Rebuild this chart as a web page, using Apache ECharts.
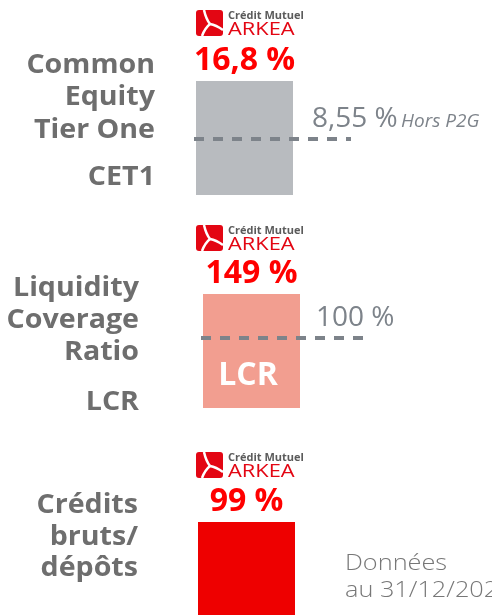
<!DOCTYPE html>
<html>
<head>
<meta charset="UTF-8">
<title>Crédit Mutuel Arkéa - ratios</title>
<script src="https://cdn.jsdelivr.net/npm/echarts@6/dist/echarts.min.js"></script>
<style>
  html, body { margin: 0; padding: 0; background: #fff; }
  #main { width: 492px; height: 615px; }
</style>
</head>
<body>
<div id="main"></div>
<script>
// data
var indicators = ['CET1', 'LCR', 'Crédits bruts/dépôts'];
var ratioValues = [16.8, 149, 99];
var thresholdValues = [8.55, 100, null];
var thresholdNotes = ['Hors P2G', '', ''];
var leftLabels = ['Common\nEquity\nTier One', 'Liquidity\nCoverage\nRatio', 'Crédits\nbruts/\ndépôts'];
var shortLabels = ['CET1', 'LCR', ''];
var dateNote = 'Données\nau 31/12/2020';

// layout of the three blocks
var boxes = [
  { left: 196, top: 81, height: 114, yMin: 0.6, lineEnd: 351, labelShift: 118, labelRight: 155 },
  { left: 203, top: 294, height: 114, yMin: 22, lineEnd: 372, labelShift: 115, labelRight: 139 },
  { left: 198, top: 522, height: 93, yMin: 0, labelRight: 138 }
];
var barColors = ['#b8bbbf', '#f29e90', '#ee0000'];
var logoTops = [10, 225, 452];
var labelTops = [49, 273, 490];
var labelLineHeights = [32.5, 32, 31.5];
var shortTops = [165, 390];

function fmt(v) {
  return String(v).replace('.', ',') + ' %';
}

function swoosh(x1, y1, cx, cy, x2, y2) {
  return {
    type: 'bezierCurve',
    shape: { x1: x1, y1: y1, cpx1: cx, cpy1: cy, x2: x2, y2: y2 },
    style: { fill: null, stroke: '#fff', lineWidth: 2.5 }
  };
}

function logo(x, y) {
  return {
    type: 'group', x: x, y: y,
    children: [
      { type: 'rect', shape: { x: 0, y: 0, width: 27, height: 26, r: 3 }, style: { fill: '#e30613' } },
      swoosh(8, 0, 10, 9, 14, 14),
      swoosh(14, 14, 20, 15, 27, 20),
      swoosh(14, 14, 9, 18, 6, 26),
      { type: 'text', x: 32, y: 0, style: { text: 'Crédit Mutuel', font: 'bold 11px "Open Sans"', fill: '#5b5b5b', verticalAlign: 'top' } },
      { type: 'text', x: 32, y: 10, scaleX: 1.15, style: { text: 'ARKEA', font: '19px "Open Sans"', fill: '#e30613', verticalAlign: 'top' } }
    ]
  };
}

var myChart = echarts.init(document.getElementById('main'));

var graphics = [];
boxes.forEach(function (b, i) {
  graphics.push(logo(196, logoTops[i]));
  graphics.push({
    type: 'text', x: b.labelRight, y: labelTops[i], scaleX: 1.1,
    style: { text: leftLabels[i], font: 'bold 26px "Open Sans"', fill: '#6e6e6e',
      align: 'right', verticalAlign: 'top', lineHeight: labelLineHeights[i] }
  });
  if (shortLabels[i] && i < shortTops.length) {
    graphics.push({
      type: 'text', x: b.labelRight, y: shortTops[i], scaleX: 1.1,
      style: { text: shortLabels[i], font: 'bold 26px "Open Sans"', fill: '#6e6e6e', align: 'right', verticalAlign: 'top' }
    });
  }
});
// "LCR" written inside the salmon bar
graphics.push({
  type: 'text', x: boxes[1].left + 45, y: 376, z: 100,
  style: { text: 'LCR', font: 'bold 32px "Open Sans"', fill: '#fff', align: 'center', verticalAlign: 'middle' }
});
graphics.push({
  type: 'text', x: 345, y: 550, scaleX: 1.15,
  style: { text: dateNote, font: '300 22px "Open Sans"', fill: '#777', verticalAlign: 'top', lineHeight: 27 }
});

var option = {
  animation: false,
  grid: boxes.map(function (b) {
    return { left: b.left, top: b.top, width: 97, height: b.height };
  }),
  xAxis: boxes.map(function (b, i) {
    return { type: 'category', gridIndex: i, data: [indicators[i]], show: false };
  }),
  yAxis: boxes.map(function (b, i) {
    return { type: 'value', gridIndex: i, min: b.yMin, max: ratioValues[i], show: false };
  }),
  graphic: { elements: graphics },
  series: ratioValues.map(function (v, i) {
    var b = boxes[i];
    var s = {
      type: 'bar', xAxisIndex: i, yAxisIndex: i, data: [v], barWidth: '100%',
      itemStyle: { color: barColors[i] },
      label: {
        show: true, position: 'top', distance: 4,
        formatter: function (p) { return fmt(p.value); },
        color: '#f00', fontFamily: 'Open Sans', fontWeight: 'bold', fontSize: 32
      }
    };
    var t = thresholdValues[i];
    if (t != null) {
      s.markLine = {
        silent: true,
        symbol: ['none', 'none'],
        lineStyle: { color: '#7d838a', width: 4, type: [10, 9] },
        label: {
          show: true, position: 'insideStartTop', distance: [b.labelShift, 6],
          formatter: function () {
            return '{v|' + fmt(t) + '}' + (thresholdNotes[i] ? ' {s|' + thresholdNotes[i] + '}' : '');
          },
          rich: {
            v: { fontFamily: 'Open Sans', fontSize: 28, color: '#7d838a', lineHeight: 30, verticalAlign: 'bottom' },
            s: { fontFamily: 'Open Sans', fontSize: 19, fontStyle: 'italic', color: '#7d838a', lineHeight: 30,
              verticalAlign: 'bottom', padding: [0, 0, 2, 0] }
          }
        },
        data: [[{ yAxis: t, x: b.left - 2 }, { yAxis: t, x: b.lineEnd }]]
      };
    }
    return s;
  })
};

myChart.setOption(option);
</script>
</body>
</html>
